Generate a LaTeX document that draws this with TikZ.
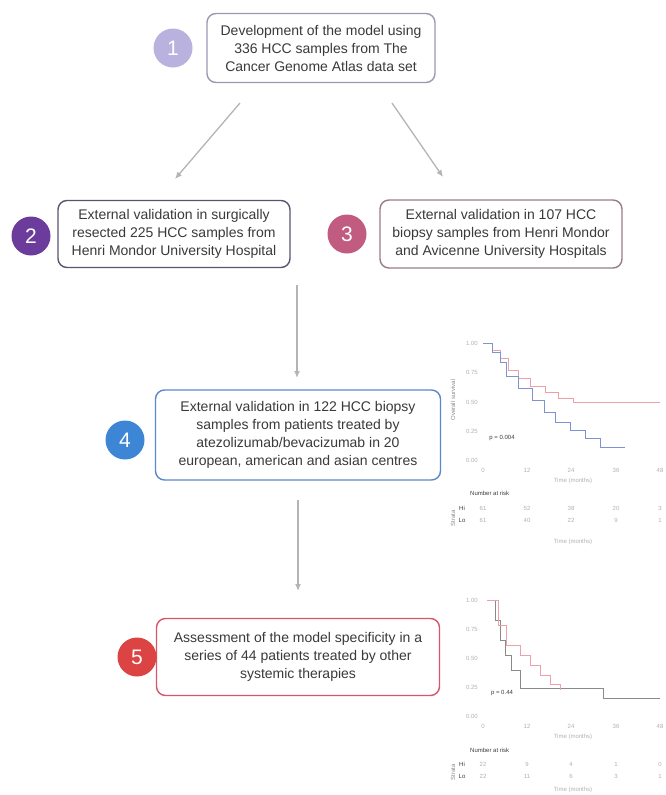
\documentclass[tikz,border=0pt]{standalone}
\usepackage{fontspec}
\setmainfont{Liberation Sans}
\usetikzlibrary{arrows.meta}

\definecolor{txtgrey}{HTML}{3A3A3A}
\definecolor{arrgrey}{HTML}{B4B4B4}
\definecolor{onecol}{HTML}{B9B2DE}
\definecolor{twocol}{HTML}{6B3C9B}
\definecolor{threecol}{HTML}{C25B80}
\definecolor{fourcol}{HTML}{3D86D6}
\definecolor{fivecol}{HTML}{DC4343}
\definecolor{oneline}{HTML}{9C98B4}
\definecolor{twoline}{HTML}{5A5470}
\definecolor{threeline}{HTML}{9A7C88}
\definecolor{fourline}{HTML}{5B88CC}
\definecolor{fiveline}{HTML}{D8566A}
\definecolor{kmred}{HTML}{E9A3A8}
\definecolor{kmblue}{HTML}{7E93D6}
\definecolor{kmdark}{HTML}{8A8A8A}
\definecolor{kmtext}{HTML}{B0B0B0}

\begin{document}
\begin{tikzpicture}[x=1pt, y=-1pt]
  \tikzstyle{stepbox}=[rectangle, draw, rounded corners=9pt, line width=1.4pt, fill=white,
    align=center, inner sep=0pt, text=txtgrey, font=\fontsize{14}{18}\selectfont]
  \tikzstyle{num}=[circle, minimum size=39pt, inner sep=0pt, text=white,
    font=\fontsize{21}{21}\selectfont]
  \tikzstyle{edge}=[-{Latex[length=7pt, width=6pt]}, line width=1.3pt, color=arrgrey]
  \tikzstyle{km}=[line width=0.9pt]
  \tikzstyle{kmlabel}=[text=kmtext, font=\fontsize{6}{7}\selectfont, inner sep=0pt]

  \useasboundingbox (0,0) rectangle (666,795);

  % steps of the study
  \node[stepbox, draw=oneline, minimum width=228pt, minimum height=69pt] (s1) at (321, 48)
    {Development of the model using\\336 HCC samples from The\\Cancer Genome Atlas data set};
  \node[stepbox, draw=twoline, minimum width=232pt, minimum height=67pt] (s2) at (174, 234)
    {External validation in surgically\\resected 225 HCC samples from\\Henri Mondor University Hospital};
  \node[stepbox, draw=threeline, minimum width=242pt, minimum height=68pt] (s3) at (501, 234)
    {External validation in 107 HCC\\biopsy samples from Henri Mondor\\and Avicenne University Hospitals};
  \node[stepbox, draw=fourline, minimum width=285pt, minimum height=90pt] (s4) at (298, 435)
    {External validation in 122 HCC biopsy\\samples from patients treated by\\atezolizumab/bevacizumab in 20\\european, american and asian centres};
  \node[stepbox, draw=fiveline, minimum width=283pt, minimum height=77pt] (s5) at (298, 657)
    {Assessment of the model specificity in a\\series of 44 patients treated by other\\systemic therapies};

  \node[num, fill=onecol] (n1) at (173, 48) {1};
  \node[num, fill=twocol] (n2) at (31, 236) {2};
  \node[num, fill=threecol] (n3) at (347, 234) {3};
  \node[num, fill=fourcol] (n4) at (125, 440) {4};
  \node[num, fill=fivecol] (n5) at (137, 657) {5};

  % arrows
  \coordinate (a1) at (240, 103);
  \coordinate (a2) at (175, 179);
  \coordinate (b1) at (392, 103);
  \coordinate (b2) at (443, 177);
  \coordinate (c1) at (297, 285);
  \coordinate (c2) at (297, 378);
  \coordinate (d1) at (298, 500);
  \coordinate (d2) at (298, 591);

  \path[edge] (a1) edge (a2);
  \path[edge] (b1) edge (b2);
  \path[edge] (c1) edge (c2);
  \path[edge] (d1) edge (d2);

  % first survival plot
  \node[kmlabel, rotate=90, text=kmdark] at (453, 400) {Overall survival};
  \foreach \v/\y in {1.00/343, 0.75/372, 0.50/402, 0.25/431, 0.00/460}
    \node[kmlabel, anchor=east] at (478, \y) {\v};
  \foreach \t/\x in {0/483, 12/527, 24/571, 36/616, 48/660}
    \node[kmlabel] at (\x, 470) {\t};
  \node[kmlabel] at (573, 481) {Time (months)};
  \draw[km, kmred] (483,343) -- (492,343) -- (492,350) -- (500,350) -- (500,358) -- (508,358)
    -- (508,370) -- (518,370) -- (518,378) -- (530,378) -- (530,386) -- (545,386) -- (545,392)
    -- (558,392) -- (558,398) -- (573,398) -- (573,402) -- (660,402);
  \draw[km, kmblue] (483,343) -- (492,343) -- (492,352) -- (500,352) -- (500,362) -- (506,362)
    -- (506,376) -- (518,376) -- (518,388) -- (532,388) -- (532,400) -- (544,400) -- (544,412)
    -- (555,412) -- (555,422) -- (570,422) -- (570,430) -- (585,430) -- (585,438) -- (600,438)
    -- (600,447) -- (625,447);
  \node[kmlabel, text=txtgrey] at (502, 438) {p = 0.004};
  \node[kmlabel, text=txtgrey, anchor=west] at (470, 493) {Number at risk};
  \node[kmlabel, rotate=90, text=kmdark] at (453, 518) {Strata};
  \node[kmlabel, text=txtgrey] at (462, 508) {Hi};
  \node[kmlabel, text=txtgrey] at (462, 520) {Lo};
  \foreach \a/\b/\x in {61/61/483, 52/40/527, 38/22/571, 20/9/616, 3/1/660} {
    \node[kmlabel] at (\x, 508) {\a};
    \node[kmlabel] at (\x, 520) {\b};
  }
  \node[kmlabel] at (573, 542) {Time (months)};

  % second survival plot
  \foreach \v/\y in {1.00/600, 0.75/629, 0.50/658, 0.25/687, 0.00/716}
    \node[kmlabel, anchor=east] at (478, \y) {\v};
  \foreach \t/\x in {0/483, 12/527, 24/571, 36/616, 48/660}
    \node[kmlabel] at (\x, 726) {\t};
  \node[kmlabel] at (573, 737) {Time (months)};
  \draw[km, kmdark] (487,600) -- (495,600) -- (495,620) -- (500,620) -- (500,640) -- (505,640)
    -- (505,655) -- (511,655) -- (511,670) -- (520,670) -- (520,688) -- (603,688) -- (603,698)
    -- (660,698);
  \draw[km, kmred] (487,600) -- (498,600) -- (498,625) -- (506,625) -- (506,645) -- (520,645)
    -- (520,655) -- (530,655) -- (530,665) -- (540,665) -- (540,675) -- (550,675) -- (550,684)
    -- (560,684) -- (560,690);
  \node[kmlabel, text=txtgrey] at (502, 693) {p = 0.44};
  \node[kmlabel, text=txtgrey, anchor=west] at (470, 750) {Number at risk};
  \node[kmlabel, rotate=90, text=kmdark] at (453, 772) {Strata};
  \node[kmlabel, text=txtgrey] at (462, 764) {Hi};
  \node[kmlabel, text=txtgrey] at (462, 776) {Lo};
  \foreach \a/\b/\x in {22/22/483, 9/11/527, 4/6/571, 1/3/616, 0/1/660} {
    \node[kmlabel] at (\x, 764) {\a};
    \node[kmlabel] at (\x, 776) {\b};
  }
  \node[kmlabel] at (573, 790) {Time (months)};
\end{tikzpicture}
\end{document}
